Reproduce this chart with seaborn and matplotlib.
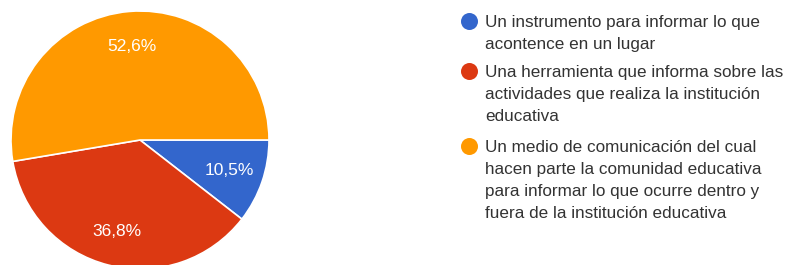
import matplotlib.pyplot as plt
import seaborn as sns

# chart data
answers = [
    "Un instrumento para informar lo que\nacontence en un lugar",
    "Una herramienta que informa sobre las\nactividades que realiza la institución\neducativa",
    "Un medio de comunicación del cual\nhacen parte la comunidad educativa\npara informar lo que ocurre dentro y\nfuera de la institución educativa",
]
shares = [10.5, 36.8, 52.6]
pct_labels = ["10,5%", "36,8%", "52,6%"]
colors = ["#3366CC", "#DC3912", "#FF9900"]

W, H = 786, 265

sns.set_theme(style="white")
plt.rcParams['font.family'] = ['Liberation Sans', 'DejaVu Sans']

fig = plt.figure(figsize=(W / 100, H / 100), dpi=100)

# pie: centre (140, 140) px, radius 129 px
cx, cy, r = 140, 140, 129
ax = fig.add_axes([(cx - r) / W, (H - cy - r) / H, 2 * r / W, 2 * r / H])
wedges, texts = ax.pie(
    shares, colors=colors, labels=pct_labels, startangle=0, counterclock=False,
    labeldistance=0.73,
    wedgeprops=dict(edgecolor="white", linewidth=1.2, clip_on=False),
    textprops=dict(color="white", fontsize=12.5, ha="center", va="center"),
)
ax.set_xlim(-1, 1)
ax.set_ylim(-1, 1)
ax.set_aspect("equal")

# legend drawn in pixel space, marker on the first line of each entry
leg = fig.add_axes([0, 0, 1, 1], facecolor="none")
leg.set_xlim(0, W)
leg.set_ylim(H, 0)
leg.axis("off")
first_baselines = [27.3, 77.3, 152.3]
line_step = 21.8
for label, color, base in zip(answers, colors, first_baselines):
    leg.scatter([469], [base - 6.6], s=150, color=color, linewidths=0)
    for i, line in enumerate(label.split("\n")):
        leg.text(485, base + i * line_step, line, fontsize=12.3,
                 color="#333333", va="baseline", ha="left")

fig.savefig("out.png", dpi=100)
